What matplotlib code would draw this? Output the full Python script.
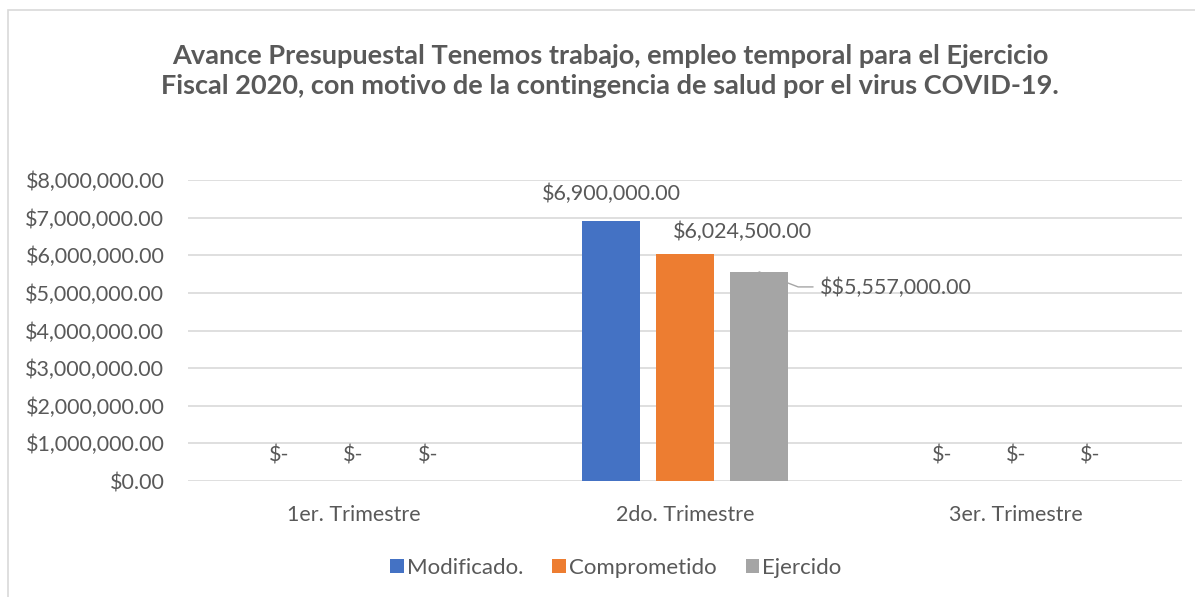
import matplotlib
matplotlib.use("Agg")
import matplotlib.pyplot as plt
from matplotlib.patches import Rectangle

categories = ["1er. Trimestre", "2do. Trimestre", "3er. Trimestre"]
series_names = ["Modificado.", "Comprometido", "Ejercido"]
modificado = [0, 6900000, 0]
comprometido = [0, 6024500, 0]
ejercido = [0, 5557000, 0]
title = ("Avance Presupuestal Tenemos trabajo, empleo temporal para el Ejercicio\n"
         "Fiscal 2020, con motivo de la contingencia de salud por el virus COVID-19.")

colors = ["#4472C4", "#ED7D31", "#A5A5A5"]
txt = "#595959"
plt.rcParams["font.family"] = ["Lato", "DejaVu Sans"]
plt.rcParams["text.parse_math"] = False
fs = 15.5

W, H = 1195, 597
fig = plt.figure(figsize=(W / 100, H / 100), dpi=100)
fig.patches.append(Rectangle((8 / W, -0.1), 1.2, 1 - 10 / H + 0.1, transform=fig.transFigure,
                             fill=False, edgecolor="#d9d9d9", lw=1.2))

ax = fig.add_axes([188 / W, 1 - 481 / H, 994 / W, 301 / H])
x = list(range(len(categories)))
w = 58 / 331
step = 74 / 331
series = [modificado, comprometido, ejercido]
for i, (vals, name) in enumerate(zip(series, series_names)):
    xs = [xi + (i - 1) * step for xi in x]
    ax.bar(xs, vals, width=w, color=colors[i], label=name, zorder=3)
    for xv, v in zip(xs, vals):
        if v == 0:
            ax.annotate("$-", (xv, v), xytext=(0, 26), textcoords="offset pixels",
                        ha="center", va="center", fontsize=fs, color=txt)

# labels of the non-zero bars, placed as in the original
ax.annotate("${:,.2f}".format(modificado[1]), (1 - step, modificado[1]), xytext=(0, 27),
            textcoords="offset pixels", ha="center", va="center", fontsize=fs, color=txt)
ax.annotate("${:,.2f}".format(comprometido[1]), (1, comprometido[1]), xytext=(57, 22),
            textcoords="offset pixels", ha="center", va="center", fontsize=fs, color=txt)
ax.annotate("$${:,.2f}".format(ejercido[1]), (1 + step, ejercido[1]), xytext=(61, -16),
            textcoords="offset pixels", ha="left", va="center", fontsize=fs, color=txt)
# leader line
ax.annotate("", (1 + step, ejercido[1]), xytext=(54, -15), textcoords="offset pixels",
            arrowprops=dict(arrowstyle="-", color="#a6a6a6", lw=1, shrinkA=0, shrinkB=0,
                            connectionstyle="angle,angleA=0,angleB=-21,rad=0"),
            zorder=2)

ax.set_xlim(-0.5, 2.5)
ax.set_ylim(0, 8000000)
ax.set_yticks(range(0, 8000001, 1000000))
ax.set_yticklabels(["${:,.2f}".format(v) for v in range(0, 8000001, 1000000)])
ax.set_xticks(x)
ax.set_xticklabels(categories)
ax.tick_params(axis="y", length=0, pad=17, labelsize=fs, labelcolor=txt)
ax.tick_params(axis="x", length=0, pad=17, labelsize=fs, labelcolor=txt)
ax.grid(axis="y", color="#d9d9d9", lw=1.2, zorder=0)
for s in ax.spines.values():
    s.set_visible(False)

fig.text(610 / W, 1 - 70.5 / H, title, ha="center", va="center", fontsize=19.5,
         fontweight="bold", color=txt, linespacing=1.3)

fig.legend(loc="center", bbox_to_anchor=(616 / W, 1 - 568 / H), ncol=3, frameon=False,
           fontsize=16, labelcolor=txt, handlelength=0.6, handleheight=0.6,
           handletextpad=0.15, columnspacing=1.3)

fig.savefig("out.png", dpi=100, facecolor="white")
